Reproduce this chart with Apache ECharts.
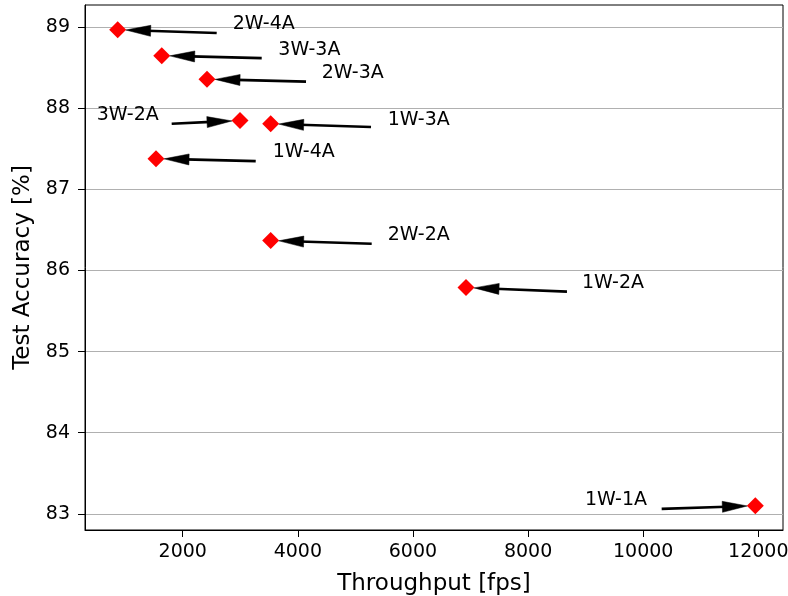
<!DOCTYPE html>
<html>
<head>
<meta charset="utf-8">
<script src="https://cdn.jsdelivr.net/npm/echarts@6/dist/echarts.min.js"></script>
<style>html,body{margin:0;padding:0;background:#fff}#c{width:788px;height:596px}</style>
</head>
<body>
<div id="c"></div>
<script>
// ---- data ----
const configNames = ['2W-4A','3W-3A','2W-3A','3W-2A','1W-3A','1W-4A','2W-2A','1W-2A','1W-1A'];
const throughput  = [870, 1635, 2422, 2995, 3528, 1536, 3528, 6922, 11948];
const accuracy    = [88.97, 88.65, 88.36, 87.85, 87.81, 87.38, 86.37, 85.79, 83.10];
// annotation text anchors (data units) and arrow tails (data units)
const textX = [2868, 3661, 4414, 505, 5561, 3563, 5561, 8937, 8989];
const textY = [89.06, 88.74, 88.45, 87.93, 87.88, 87.48, 86.46, 85.86, 83.19];
const tailX = [2590, 3372, 4142, 1808, 5271, 3268, 5283, 8676, 10321];
const tailY = [88.93, 88.62, 88.33, 87.81, 87.77, 87.35, 86.33, 85.74, 83.06];
const xTicks = [2000, 4000, 6000, 8000, 10000, 12000];
const yTicks = [83, 84, 85, 86, 87, 88, 89];

const FONT = 'DejaVu Sans';
const chart = echarts.init(document.getElementById('c'), null, {renderer: 'canvas'});

const pointData = throughput.map((x, i) => [x, accuracy[i], configNames[i]]);
const arrowData = throughput.map((x, i) => [tailX[i], tailY[i], x, accuracy[i]]);
const textData = textX.map((x, i) => [x, textY[i], configNames[i]]);

function renderArrow(params, api) {
  const p0 = api.coord([api.value(0), api.value(1)]);
  const p1 = api.coord([api.value(2), api.value(3)]);
  const dx = p1[0] - p0[0], dy = p1[1] - p0[1];
  const len = Math.sqrt(dx * dx + dy * dy);
  const ux = dx / len, uy = dy / len;
  const shrink = 8, headLen = 25, headHalf = 5.5;
  const tip = [p1[0] - ux * shrink, p1[1] - uy * shrink];
  const base = [tip[0] - ux * headLen, tip[1] - uy * headLen];
  const px = -uy, py = ux;
  return {
    type: 'group',
    children: [
      {type: 'line', shape: {x1: p0[0], y1: p0[1], x2: base[0] + ux * 4, y2: base[1] + uy * 4},
       style: {stroke: '#000', lineWidth: 2.6}},
      {type: 'polygon', shape: {points: [tip,
         [base[0] + px * headHalf, base[1] + py * headHalf],
         [base[0] - px * headHalf, base[1] - py * headHalf]]},
       style: {fill: '#000', stroke: '#000', lineWidth: 0.5}}
    ]
  };
}

function renderText(params, api) {
  const p = api.coord([api.value(0), api.value(1)]);
  return {
    type: 'text',
    x: p[0], y: p[1] + 1.5,
    style: {text: textData[params.dataIndex][2], fill: '#000', font: '19px "' + FONT + '"',
            align: 'left', verticalAlign: 'middle'}
  };
}

chart.setOption({
  animation: false,
  backgroundColor: '#fff',
  grid: {left: 85, right: 5, top: 5, bottom: 66, show: true, borderColor: '#000', borderWidth: 1,
         backgroundColor: 'transparent', containLabel: false, outerBoundsMode: 'none'},
  xAxis: {
    type: 'value', min: 302, max: 12429,
    name: 'Throughput [fps]', nameLocation: 'middle', nameGap: 43,
    nameTextStyle: {fontFamily: FONT, fontSize: 23, color: '#000'},
    axisLine: {show: true, lineStyle: {color: '#000', width: 1}},
    axisTick: {show: true, length: 7, inside: false, customValues: xTicks, lineStyle: {color: '#000', width: 1}},
    axisLabel: {customValues: xTicks, fontFamily: FONT, fontSize: 19, color: '#000', margin: 13,
                formatter: v => String(v)},
    splitLine: {show: false}
  },
  yAxis: {
    type: 'value', min: 82.8, max: 89.275,
    name: 'Test Accuracy [%]', nameLocation: 'middle', nameGap: 50,
    nameTextStyle: {fontFamily: FONT, fontSize: 23, color: '#000'},
    axisLine: {show: true, lineStyle: {color: '#000', width: 1}},
    axisTick: {show: true, length: 7, inside: false, customValues: yTicks, lineStyle: {color: '#000', width: 1}},
    axisLabel: {customValues: yTicks, fontFamily: FONT, fontSize: 19, color: '#000', margin: 15,
                formatter: v => String(v)},
    splitLine: {show: true, lineStyle: {color: '#b0b0b0', width: 1}}
  },
  series: [
    {type: 'custom', name: 'arrows', renderItem: renderArrow, data: arrowData, z: 3, silent: true,
     encode: {x: [0, 2], y: [1, 3]}, clip: false},
    {type: 'scatter', name: 'points', data: pointData, symbol: 'diamond', symbolSize: [17, 17],
     itemStyle: {color: '#ff0000', opacity: 1}, z: 5},
    {type: 'custom', name: 'labels', renderItem: renderText, data: textData, z: 6, silent: true,
     encode: {x: 0, y: 1}, clip: false}
  ]
});
</script>
</body>
</html>
